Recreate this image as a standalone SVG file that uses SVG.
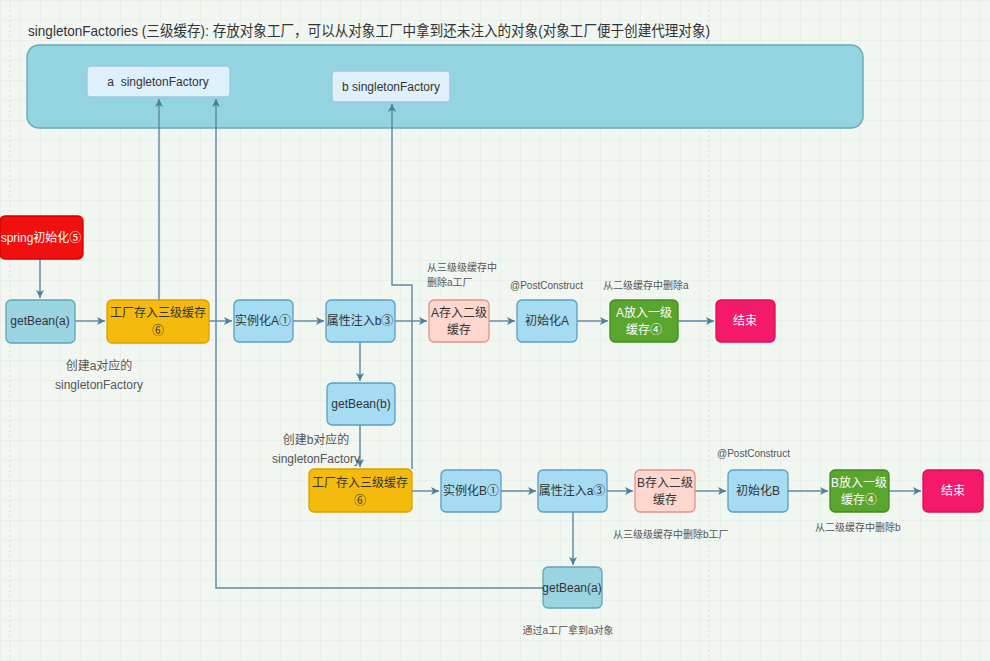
<svg xmlns="http://www.w3.org/2000/svg" width="990" height="661" viewBox="0 0 990 661">
<defs>
<pattern id="grid" width="20" height="20" patternUnits="userSpaceOnUse">
<path d="M20 0H0V20" fill="none" stroke="#e1eae1" stroke-width="1"/>
</pattern>
<marker id="arr" markerWidth="10" markerHeight="10" refX="8" refY="5" orient="auto" markerUnits="userSpaceOnUse">
<path d="M0,1 L8,5 L0,9 L2,5 Z" fill="#4f7f9c"/>
</marker>
</defs>
<style>
text{font-family:"Liberation Sans","Noto Sans CJK SC",sans-serif;fill:#333;}
.n{font-size:12px;text-anchor:middle;dominant-baseline:central;}
.w{fill:#fff;}
.lbl{font-size:10px;fill:#555;}
.lb12{font-size:12px;fill:#555;text-anchor:middle;}
.c{fill:none;stroke:#5a88a4;stroke-width:1.4;}
.blue{fill:#a6dcf2;stroke:#5d9dc2;stroke-width:1.3;}
.teal{fill:#9bd5e1;stroke:#62a3b5;stroke-width:1.3;}
.yel{fill:#f5bb0c;stroke:#d8a000;stroke-width:1.3;}
.pink{fill:#fdd6ce;stroke:#e39381;stroke-width:1.3;}
.green{fill:#5aa52e;stroke:#428a20;stroke-width:1.3;}
.end{fill:#f4196a;stroke:#d81058;stroke-width:1.3;}
.fac{fill:#def0fb;stroke:#9ec6df;stroke-width:1.3;}
</style>
<rect width="990" height="661" fill="#f1f6f1"/>
<rect width="990" height="661" fill="url(#grid)"/>
<line x1="709" y1="0" x2="709" y2="661" stroke="#d4dcd4" stroke-dasharray="2,3"/>
<line x1="10" y1="0" x2="10" y2="661" stroke="#d4dcd4" stroke-dasharray="2,3"/>

<text x="28" y="36" textLength="682" lengthAdjust="spacingAndGlyphs" style="font-size:15px;fill:#333">singletonFactories (三级缓存): 存放对象工厂，可以从对象工厂中拿到还未注入的对象(对象工厂便于创建代理对象)</text>

<g id="container">
<rect x="27" y="45" width="836" height="83" rx="12" fill="#94d4e0" stroke="#6aa8b6" stroke-width="1.4"/>
</g>
<g id="aFactory">
<rect class="fac" x="87" y="66" width="143" height="31" rx="4"/>
<text class="n" x="158" y="82" style="white-space:pre">a  singletonFactory</text>
</g>
<g id="bFactory">
<rect class="fac" x="332" y="71" width="118" height="31" rx="4"/>
<text class="n" x="391" y="87">b singletonFactory</text>
</g>

<g id="connectors">
<path class="c" d="M40,259 V298" marker-end="url(#arr)"/>
<path class="c" d="M75,321 H105" marker-end="url(#arr)"/>
<path class="c" d="M159,300 V99" marker-end="url(#arr)"/>
<path class="c" d="M209,321 H232" marker-end="url(#arr)"/>
<path class="c" d="M293,321 H324" marker-end="url(#arr)"/>
<path class="c" d="M395,321 H427" marker-end="url(#arr)"/>
<path class="c" d="M489,321 H515" marker-end="url(#arr)"/>
<path class="c" d="M577,321 H608" marker-end="url(#arr)"/>
<path class="c" d="M678,321 H714" marker-end="url(#arr)"/>
<path class="c" d="M360,342 V381" marker-end="url(#arr)"/>
<path class="c" d="M360,425 V467" marker-end="url(#arr)"/>
<path class="c" d="M412,469 V285 H392 V104" marker-end="url(#arr)"/>
<path class="c" d="M412,491 H439" marker-end="url(#arr)"/>
<path class="c" d="M501,491 H536" marker-end="url(#arr)"/>
<path class="c" d="M607,491 H633" marker-end="url(#arr)"/>
<path class="c" d="M695,491 H726" marker-end="url(#arr)"/>
<path class="c" d="M788,491 H828" marker-end="url(#arr)"/>
<path class="c" d="M889,491 H921" marker-end="url(#arr)"/>
<path class="c" d="M573,512 V565" marker-end="url(#arr)"/>
<path class="c" d="M543,588 H216 V99" marker-end="url(#arr)"/>
</g>

<g id="springInit">
<rect x="0" y="216" width="83" height="43" rx="5" fill="#f20f0f" stroke="#d00000" stroke-width="1.3"/>
<text class="n w" x="41" y="238">spring初始化⑤</text>
</g>
<g id="getBeanA1">
<rect class="teal" x="6" y="300" width="69" height="43" rx="5"/>
<text class="n" x="40" y="321">getBean(a)</text>
</g>
<text class="lb12" x="99" y="370">创建a对应的</text>
<text class="lb12" x="99" y="389">singletonFactory</text>

<g id="factoryA">
<rect class="yel" x="107" y="300" width="102" height="43" rx="5"/>
<text class="n" x="158" y="313">工厂存入三级缓存</text>
<text class="n" x="158" y="331">⑥</text>
</g>
<g id="instA">
<rect class="blue" x="234" y="300" width="59" height="42" rx="5"/>
<text class="n" x="263" y="321">实例化A①</text>
</g>
<g id="injectB">
<rect class="blue" x="326" y="300" width="69" height="42" rx="5"/>
<text class="n" x="360" y="321">属性注入b③</text>
</g>
<g id="aLevel2">
<rect class="pink" x="429" y="300" width="60" height="42" rx="5"/>
<text class="n" x="459" y="313">A存入二级</text>
<text class="n" x="459" y="330">缓存</text>
</g>
<text class="lbl" x="427" y="271">从三级级缓存中</text>
<text class="lbl" x="427" y="286">删除a工厂</text>
<g id="initA">
<rect class="blue" x="517" y="300" width="60" height="42" rx="5"/>
<text class="n" x="547" y="321">初始化A</text>
</g>
<text class="lbl" x="510" y="289">@PostConstruct</text>
<g id="aLevel1">
<rect class="green" x="610" y="300" width="68" height="42" rx="5"/>
<text class="n w" x="644" y="313">A放入一级</text>
<text class="n w" x="644" y="330">缓存④</text>
</g>
<text class="lbl" x="603" y="289">从二级缓存中删除a</text>
<g id="endA">
<rect class="end" x="716" y="300" width="59" height="42" rx="5"/>
<text class="n w" x="745" y="321">结束</text>
</g>

<g id="getBeanB">
<rect class="blue" x="327" y="383" width="68" height="42" rx="5"/>
<text class="n" x="361" y="404">getBean(b)</text>
</g>
<text class="lb12" x="316" y="444">创建b对应的</text>
<text class="lb12" x="316" y="463">singletonFactory</text>

<g id="factoryB">
<rect class="yel" x="309" y="469" width="103" height="43" rx="5"/>
<text class="n" x="360" y="483">工厂存入三级缓存</text>
<text class="n" x="360" y="501">⑥</text>
</g>
<g id="instB">
<rect class="blue" x="441" y="470" width="60" height="42" rx="5"/>
<text class="n" x="471" y="491">实例化B①</text>
</g>
<g id="injectA">
<rect class="blue" x="538" y="470" width="69" height="42" rx="5"/>
<text class="n" x="572" y="491">属性注入a③</text>
</g>
<g id="bLevel2">
<rect class="pink" x="635" y="470" width="60" height="42" rx="5"/>
<text class="n" x="665" y="483">B存入二级</text>
<text class="n" x="665" y="500">缓存</text>
</g>
<text class="lbl" x="613" y="538">从三级级缓存中删除b工厂</text>
<g id="initB">
<rect class="blue" x="728" y="470" width="60" height="42" rx="5"/>
<text class="n" x="758" y="491">初始化B</text>
</g>
<text class="lbl" x="717" y="457">@PostConstruct</text>
<g id="bLevel1">
<rect class="green" x="830" y="470" width="59" height="42" rx="5"/>
<text class="n w" x="859" y="483">B放入一级</text>
<text class="n w" x="859" y="500">缓存④</text>
</g>
<text class="lbl" x="815" y="531">从二级缓存中删除b</text>
<g id="endB">
<rect class="end" x="923" y="470" width="60" height="42" rx="5"/>
<text class="n w" x="953" y="491">结束</text>
</g>

<g id="getBeanA2">
<rect class="teal" x="543" y="567" width="59" height="41" rx="5"/>
<text class="n" x="572" y="588">getBean(a)</text>
</g>
<text class="lbl" x="568" y="634" style="text-anchor:middle">通过a工厂拿到a对象</text>
</svg>
